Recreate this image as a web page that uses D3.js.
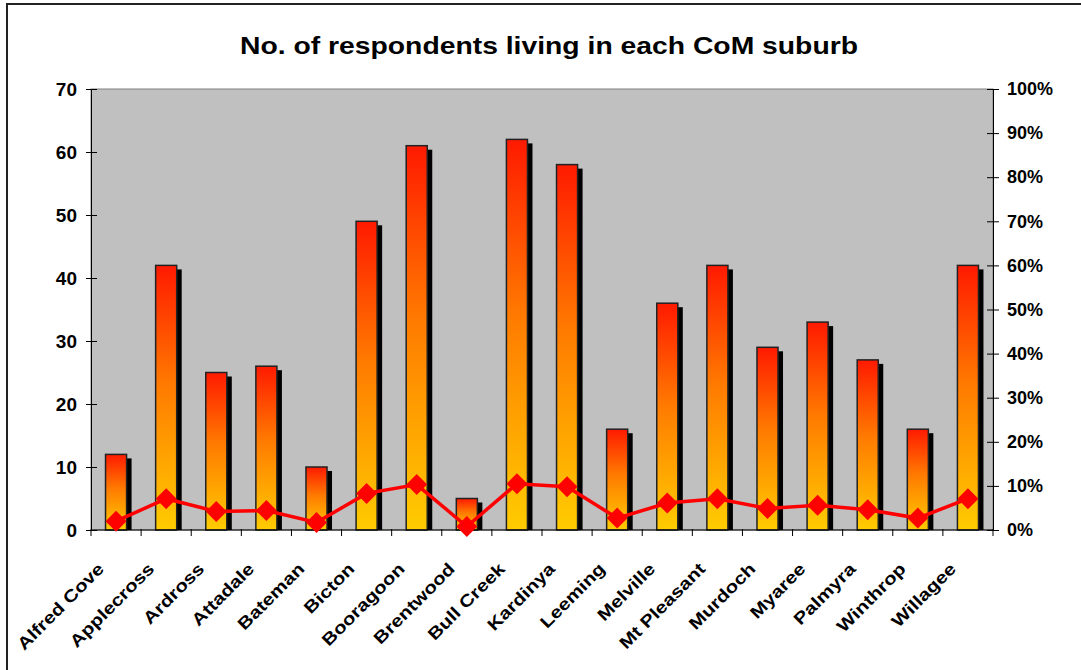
<!DOCTYPE html>
<html>
  <head>
    <meta charset="UTF-8">
    <title>No. of respondents living in each CoM suburb</title>
    <script src="https://cdnjs.cloudflare.com/ajax/libs/d3/7.8.5/d3.min.js"></script>
    <style>
      body { margin: 0; background: #fff; overflow: hidden; }
      svg { display: block; }
      text { font-family: Arial, "Liberation Sans", sans-serif; font-weight: bold; fill: #000; }
      .axis path, .axis line { stroke: #000; }
    </style>
  </head>
  <body>
    <div id="chart"></div>
    <script>
      // data
      const suburbs = ["Alfred Cove", "Applecross", "Ardross", "Attadale", "Bateman", "Bicton",
        "Booragoon", "Brentwood", "Bull Creek", "Kardinya", "Leeming", "Melville",
        "Mt Pleasant", "Murdoch", "Myaree", "Palmyra", "Winthrop", "Willagee"];
      const respondents = [12, 42, 25, 26, 10, 49, 61, 5, 62, 58, 16, 36, 42, 29, 33, 27, 16, 42];
      const percent = [2.0, 7.1, 4.2, 4.4, 1.7, 8.3, 10.3, 0.8, 10.5, 9.8, 2.7, 6.1, 7.1, 4.9, 5.6, 4.6, 2.7, 7.1];
      const leftTicks = [0, 10, 20, 30, 40, 50, 60, 70];
      const rightTicks = [0, 10, 20, 30, 40, 50, 60, 70, 80, 90, 100];

      const width = 1081, height = 670;
      const margin = {top: 89, right: 88, bottom: 140, left: 91};
      const innerWidth = width - margin.left - margin.right;
      const innerHeight = height - margin.top - margin.bottom;

      const svg = d3.select("#chart").append("svg")
        .attr("width", width)
        .attr("height", height);

      // outer frame (only top and left edges show)
      svg.append("path")
        .attr("d", "M7,670V4H1081")
        .attr("fill", "none")
        .attr("stroke", "#222")
        .attr("stroke-width", 2);

      svg.append("text")
        .attr("x", 549)
        .attr("y", 54)
        .attr("text-anchor", "middle")
        .attr("font-size", 24)
        .attr("textLength", 618)
        .attr("lengthAdjust", "spacingAndGlyphs")
        .text("No. of respondents living in each CoM suburb");

      const defs = svg.append("defs");
      const grad = defs.append("linearGradient")
        .attr("id", "barGrad")
        .attr("x1", 0).attr("y1", 0).attr("x2", 0).attr("y2", 1);
      grad.append("stop").attr("offset", "0%").attr("stop-color", "#ff1a00");
      grad.append("stop").attr("offset", "45%").attr("stop-color", "#ff7a00");
      grad.append("stop").attr("offset", "100%").attr("stop-color", "#ffcc00");

      const g = svg.append("g")
        .attr("transform", `translate(${margin.left},${margin.top})`);

      g.append("rect")
        .attr("width", innerWidth)
        .attr("height", innerHeight)
        .attr("fill", "#c0c0c0")
        .attr("stroke", "#808080");

      const x = d3.scaleBand()
        .domain(suburbs)
        .range([0, innerWidth]);
      const y = d3.scaleLinear().domain([0, 70]).range([innerHeight, 0]);
      const y2 = d3.scaleLinear().domain([0, 100]).range([innerHeight, 0]);

      const barW = x.bandwidth() * 0.42;
      const barX = d => x(d) + (x.bandwidth() - barW) / 2;

      // shadows
      g.selectAll(".shadow")
        .data(suburbs)
        .enter().append("rect")
        .attr("class", "shadow")
        .attr("x", d => barX(d) + 5)
        .attr("y", (d, i) => y(respondents[i]) + 4)
        .attr("width", barW)
        .attr("height", (d, i) => innerHeight - y(respondents[i]) - 4)
        .attr("fill", "#000");

      g.selectAll(".bar")
        .data(suburbs)
        .enter().append("rect")
        .attr("class", "bar")
        .attr("x", d => barX(d))
        .attr("y", (d, i) => y(respondents[i]))
        .attr("width", barW)
        .attr("height", (d, i) => innerHeight - y(respondents[i]))
        .attr("fill", "url(#barGrad)")
        .attr("stroke", "#222")
        .attr("stroke-width", 1.5);

      // axes
      const leftAxis = g.append("g").attr("class", "axis")
        .call(d3.axisLeft(y).tickValues(leftTicks).tickSize(0).tickPadding(14));
      leftAxis.selectAll(".tick text").attr("font-size", 19);
      leftAxis.selectAll(".tick").append("line").attr("x1", -5).attr("x2", 6);

      const rightAxis = g.append("g").attr("class", "axis")
        .attr("transform", `translate(${innerWidth},0)`)
        .call(d3.axisRight(y2).tickValues(rightTicks).tickSize(0).tickPadding(14)
          .tickFormat(d => d + "%"));
      rightAxis.selectAll(".tick text").attr("font-size", 18);
      rightAxis.selectAll(".tick").append("line").attr("x1", -6).attr("x2", 6);

      const bottom = g.append("g").attr("class", "axis")
        .attr("transform", `translate(0,${innerHeight})`);
      bottom.append("line").attr("x2", innerWidth).attr("stroke", "#000");
      bottom.selectAll(".sep")
        .data(d3.range(suburbs.length + 1))
        .enter().append("line")
        .attr("x1", i => i * x.step()).attr("x2", i => i * x.step())
        .attr("y1", -1).attr("y2", 6)
        .attr("stroke", "#000");

      g.selectAll(".xlabel")
        .data(suburbs)
        .enter().append("text")
        .attr("class", "xlabel")
        .attr("font-size", 17)
        .attr("text-anchor", "end")
        .attr("transform", d => `translate(${x(d) + x.bandwidth() / 2 - 11},${innerHeight + 40}) rotate(-45) scale(1.2,1)`)
        .text(d => d);

      // percentage line
      const line = d3.line()
        .x((d, i) => x(suburbs[i]) + x.bandwidth() / 2)
        .y(d => y2(d));
      g.append("path")
        .datum(percent)
        .attr("d", line)
        .attr("fill", "none")
        .attr("stroke", "#ff0000")
        .attr("stroke-width", 3.5);

      g.selectAll(".marker")
        .data(percent)
        .enter().append("path")
        .attr("class", "marker")
        .attr("d", d3.symbol(d3.symbolSquare, 220))
        .attr("transform", (d, i) => `translate(${x(suburbs[i]) + x.bandwidth() / 2},${y2(d)}) rotate(45)`)
        .attr("fill", "#ff0000");
    </script>
  </body>
</html>
